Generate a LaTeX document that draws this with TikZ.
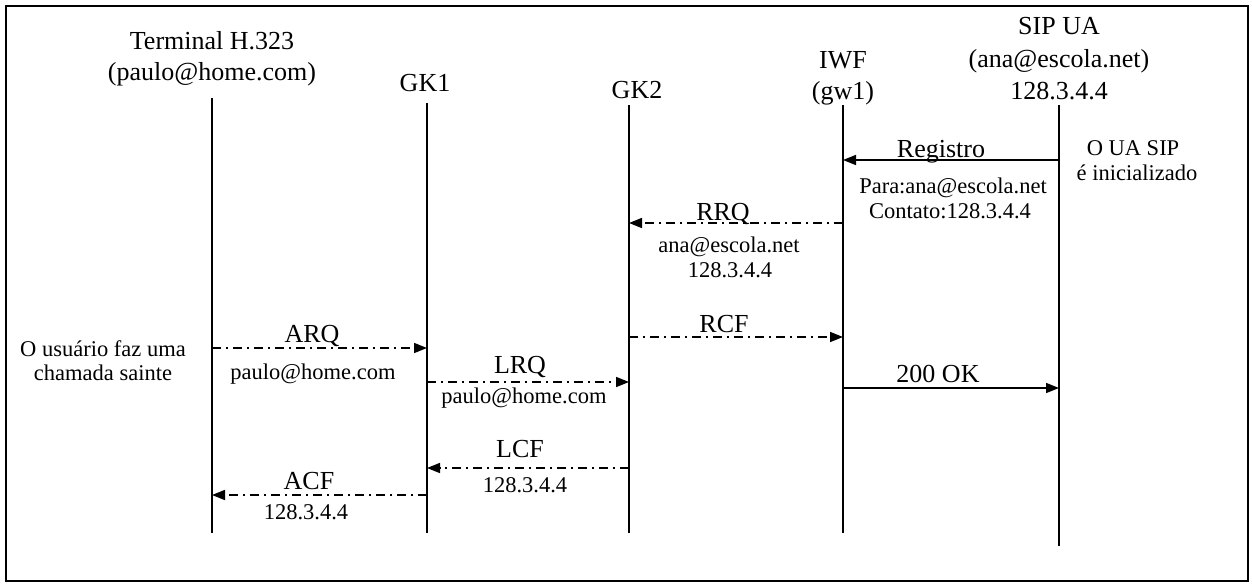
\documentclass[tikz,border=0pt]{standalone}
\usepackage{fontspec}
\setmainfont{Liberation Serif}
\usetikzlibrary{arrows.meta}
\begin{document}
\begin{tikzpicture}[x=1pt,y=-1pt,
  big/.style={font=\fontsize{26}{30}\selectfont, inner sep=0pt, anchor=base},
  small/.style={font=\fontsize{22.5}{26}\selectfont, inner sep=0pt, anchor=base},
  life/.style={line width=1.6pt},
  msg/.style={line width=1.6pt, -{Triangle[length=13pt,width=10pt]}},
  dmsg/.style={msg, dash pattern=on 9pt off 5pt on 2pt off 5pt}]
\useasboundingbox (0,0) rectangle (1252,586);
\draw[line width=2pt] (6,6) rectangle (1248,581);
% headers
\node[big] (th1) at (212,49) {Terminal H.323};
\node[big] (th2) at (212,81) {(paulo@home.com)};
\node[big] (gk1) at (425,91) {GK1};
\node[big] (gk2) at (637,98) {GK2};
\node[big] (iwf1) at (843,68) {IWF};
\node[big] (iwf2) at (843,99) {(gw1)};
\node[big] (sip1) at (1059,35) {SIP UA};
\node[big] (sip2) at (1059,67) {(ana@escola.net)};
\node[big] (sip3) at (1059,99) {128.3.4.4};
% lifeline coordinates
\coordinate (Ta) at (212,98);  \coordinate (Tb) at (212,533);
\coordinate (Ga) at (427,103); \coordinate (Gb) at (427,533);
\coordinate (Ha) at (629,105); \coordinate (Hb) at (629,533);
\coordinate (Ia) at (843,105); \coordinate (Ib) at (843,533);
\coordinate (Sa) at (1059,105); \coordinate (Sb) at (1059,546);
\draw[life] (Ta) -- (Tb);
\draw[life] (Ga) -- (Gb);
\draw[life] (Ha) -- (Hb);
\draw[life] (Ia) -- (Ib);
\draw[life] (Sa) -- (Sb);
% message endpoints
\coordinate (reg1) at (1059,160); \coordinate (reg2) at (843,160);
\coordinate (rrq1) at (843,223);  \coordinate (rrq2) at (629,223);
\coordinate (rcf1) at (629,337);  \coordinate (rcf2) at (843,337);
\coordinate (arq1) at (212,348);  \coordinate (arq2) at (427,348);
\coordinate (lrq1) at (427,382);  \coordinate (lrq2) at (629,382);
\coordinate (ok1) at (843,388);   \coordinate (ok2) at (1059,388);
\coordinate (lcf1) at (629,468);  \coordinate (lcf2) at (427,468);
\coordinate (acf1) at (427,495);  \coordinate (acf2) at (212,495);
\draw[msg] (reg1) -- (reg2);
\draw[dmsg] (rrq1) -- (rrq2);
\draw[dmsg] (rcf1) -- (rcf2);
\draw[dmsg] (arq1) -- (arq2);
\draw[dmsg] (lrq1) -- (lrq2);
\draw[msg] (ok1) -- (ok2);
\draw[dmsg] (lcf1) -- (lcf2);
\draw[dmsg] (acf1) -- (acf2);
% labels
\node[big] (lreg) at (941,157) {Registro};
\node[small] (lreg2) at (953,193) {Para:ana@escola.net};
\node[small] (lreg3) at (950,218) {Contato:128.3.4.4};
\node[small] (ini1) at (1133,155) {O UA SIP};
\node[small] (ini2) at (1137,180) {é inicializado};
\node[big] (lrrq) at (723,220) {RRQ};
\node[small] (lrrq2) at (729,252) {ana@escola.net};
\node[small] (lrrq3) at (730,277) {128.3.4.4};
\node[big] (lrcf) at (724,332) {RCF};
\node[big] (larq) at (312,342) {ARQ};
\node[small] (larq2) at (313,379) {paulo@home.com};
\node[small] (usr1) at (103,356) {O usuário faz uma};
\node[small] (usr2) at (103,380) {chamada sainte};
\node[big] (llrq) at (520,373) {LRQ};
\node[small] (llrq2) at (524,403) {paulo@home.com};
\node[big] (lok) at (938,382) {200 OK};
\node[big] (llcf) at (520,457) {LCF};
\node[small] (llcf2) at (525,492) {128.3.4.4};
\node[big] (lacf) at (309,489) {ACF};
\node[small] (lacf2) at (306,519) {128.3.4.4};
\end{tikzpicture}
\end{document}
